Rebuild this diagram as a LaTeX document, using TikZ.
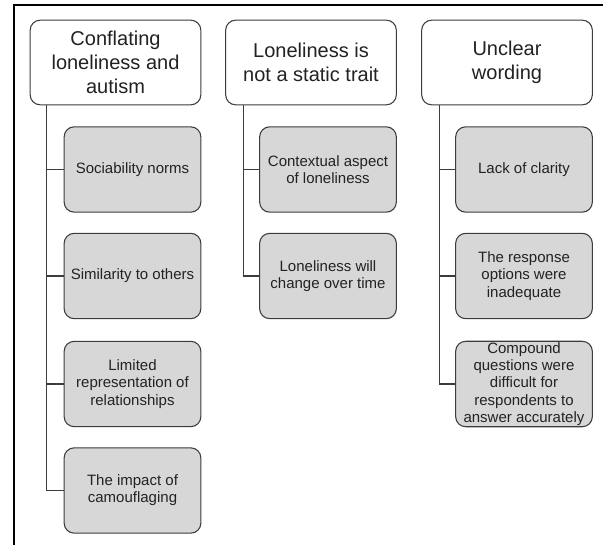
\documentclass[tikz,border=0pt]{standalone}
\usepackage{fontspec}
\setmainfont{Liberation Sans}
\usepackage{tikz}

\definecolor{boxline}{HTML}{3C3C3C}
\definecolor{leaffill}{HTML}{D7D7D7}
\definecolor{inktext}{HTML}{222222}

\begin{document}
\begin{tikzpicture}[x=0.75pt, y=-0.75pt,
	head/.style={draw=boxline, line width=0.8pt, rounded corners=7.5pt, fill=white,
		minimum width=128pt, minimum height=63.5pt, align=center, text=inktext,
		font=\fontsize{15}{18}\selectfont},
	leaf/.style={draw=boxline, line width=0.8pt, rounded corners=7.5pt, fill=leaffill,
		minimum width=102.5pt, minimum height=64pt, inner sep=1pt, align=center, text=inktext,
		font=\fontsize{11.25}{12.9}\selectfont},
	branch/.style={draw=boxline, line width=0.8pt}]
	\useasboundingbox (0,0) rectangle (603,545);
	% outer frame, only top and left edges show
	\draw[black, line width=0.8pt] (603,5) -- (14,5) -- (14,545);
	% the three themes
	\node[head] (conflating) at (115.5,62.5) {Conflating\\ loneliness and\\ autism};
	\node[head] (static) at (311,62.5) {Loneliness is\\ not a static trait};
	\node[head] (wording) at (507,62.5) {Unclear\\ wording};
	% sub-themes of the first theme
	\node[leaf] (norms) at (132.5,169.5) {Sociability norms};
	\node[leaf] (others) at (132.5,276) {Similarity to others};
	\node[leaf] (relations) at (132.5,384) {Limited\\ representation of\\ relationships};
	\node[leaf] (camouflage) at (132.5,490.5) {The impact of\\ camouflaging};
	% sub-themes of the second theme
	\node[leaf] (context) at (328,169.5) {Contextual aspect\\ of loneliness};
	\node[leaf] (overtime) at (328,276) {Loneliness will\\ change over time};
	% sub-themes of the third theme
	\node[leaf] (clarity) at (524,169.5) {Lack of clarity};
	\node[leaf] (response) at (524,276) {The response\\ options were\\ inadequate};
	\node[leaf] (compound) at (524,384) {Compound\\ questions were\\ difficult for\\ respondents to\\ answer accurately};
	% tree lines
	\draw[branch] (conflating.south west) ++(17,0) |- (norms.west);
	\draw[branch] (conflating.south west) ++(17,0) |- (others.west);
	\draw[branch] (conflating.south west) ++(17,0) |- (relations.west);
	\draw[branch] (conflating.south west) ++(17,0) |- (camouflage.west);
	\draw[branch] (static.south west) ++(18,0) |- (context.west);
	\draw[branch] (static.south west) ++(18,0) |- (overtime.west);
	\draw[branch] (wording.south west) ++(18,0) |- (clarity.west);
	\draw[branch] (wording.south west) ++(18,0) |- (response.west);
	\draw[branch] (wording.south west) ++(18,0) |- (compound.west);
\end{tikzpicture}
\end{document}
